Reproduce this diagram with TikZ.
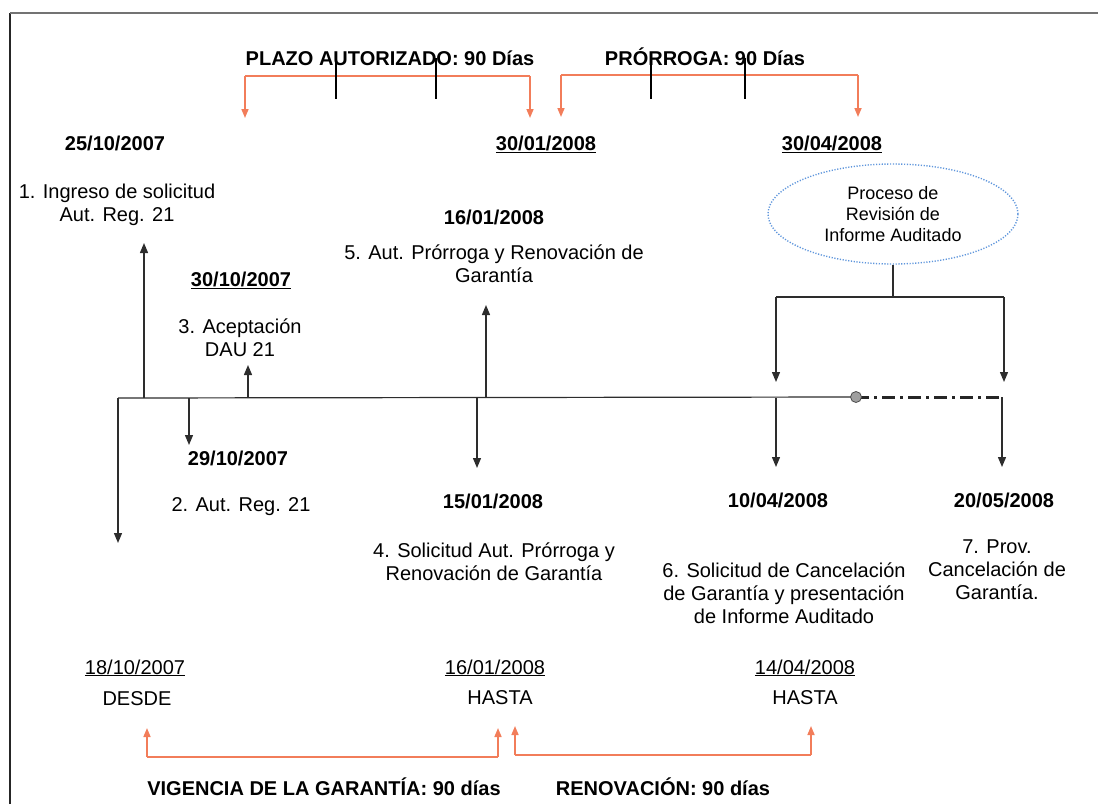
\documentclass[tikz,border=0pt]{standalone}
\usepackage{fontspec}
\setmainfont{Liberation Sans}
\usetikzlibrary{arrows.meta,shapes.geometric}
\definecolor{orangec}{RGB}{242,125,90}
\definecolor{dotblue}{RGB}{95,150,220}
\definecolor{linec}{RGB}{45,45,45}
\tikzset{
  txt/.style={font=\fontsize{20}{23}\selectfont, align=center, inner sep=0pt},
  dt/.style={font=\fontsize{20}{23}\selectfont\bfseries, align=center, inner sep=0pt},
  basepos/.style={anchor=base},
  arr/.style={draw=linec, line width=1.3pt, -{Triangle[length=10pt,width=8pt]}},
  org/.style={draw=orangec, line width=1.6pt},
  orgarr/.style={org, -{Triangle[length=9pt,width=7pt]}},
  tick/.style={draw=black, line width=2.2pt},
  tline/.style={draw=linec, line width=1.2pt},
}
\begin{document}
\begin{tikzpicture}[x=1pt,y=-1pt]
\useasboundingbox (0,0) rectangle (1098,804);
% frame
\draw[line width=2.8pt, black!85] (10,804) -- (10,13);
\draw[line width=2.8pt, black!55] (10,13) -- (1098,13);

% ---- top brackets
\node[dt, basepos] (title1) at (390,65) {PLAZO AUTORIZADO: 90 Días};
\node[dt, basepos] (title2) at (705,65) {PRÓRROGA: 90 Días};
\coordinate (p1l) at (245,76); \coordinate (p1r) at (530,76);
\coordinate (p1le) at (245,118); \coordinate (p1re) at (530,118);
\draw[org] (p1l) -- (p1r);
\draw[orgarr] (p1l) -- (p1le);
\draw[orgarr] (p1r) -- (p1re);
\coordinate (k1a) at (336,58); \coordinate (k1b) at (336,99);
\coordinate (k2a) at (436,58); \coordinate (k2b) at (436,99);
\draw[tick] (k1a) -- (k1b);
\draw[tick] (k2a) -- (k2b);
\coordinate (p2l) at (561,75); \coordinate (p2r) at (858,75);
\coordinate (p2le) at (561,117); \coordinate (p2re) at (858,117);
\draw[org] (p2l) -- (p2r);
\draw[orgarr] (p2l) -- (p2le);
\draw[orgarr] (p2r) -- (p2re);
\coordinate (k3a) at (651,58); \coordinate (k3b) at (651,99);
\coordinate (k4a) at (745,58); \coordinate (k4b) at (745,99);
\draw[tick] (k3a) -- (k3b);
\draw[tick] (k4a) -- (k4b);

% ---- top dates
\node[dt, basepos] (d1) at (115,150) {25/10/2007};
\node[dt, basepos] (d2) at (546,150) {\underline{30/01/2008}};
\node[dt, basepos] (d3) at (832,150) {\underline{30/04/2008}};

% ---- upper labels
\node[txt] (t1) at (117,205) {1. Ingreso de solicitud\\Aut. Reg. 21};
\node[dt, basepos] (d5) at (494,224) {16/01/2008};
\node[txt] (t5) at (494,264) {5. Aut. Prórroga y Renovación de\\Garantía};
\node[dt, basepos] (d4) at (241,286) {\underline{30/10/2007}};
\node[txt] (t3) at (240,338) {3. Aceptación\\DAU 21};

% ---- ellipse
\node[ellipse, draw=dotblue, line width=1.4pt, dash pattern=on 1.2pt off 1.6pt,
      minimum width=250pt, minimum height=100pt, inner sep=0pt,
      font=\fontsize{18}{21}\selectfont, align=center] (proc) at (893,214)
      {Proceso de\\Revisión de\\Informe Auditado};
\coordinate (hj) at (proc.south |- 0,297);
\coordinate (hl) at (776,297); \coordinate (hr) at (1004,297);
\coordinate (hle) at (776,382); \coordinate (hre) at (1004,382);
\draw[tline] (proc.south) -- (hj);
\draw[tline] (hl) -- (hr);
\draw[arr] (hl) -- (hle);
\draw[arr] (hr) -- (hre);

% ---- timeline
\coordinate (tl0) at (118,398);
\coordinate (tdot) at (856,397);
\coordinate (tend) at (1002,397);
\draw[tline] (tl0) -- (tdot);
\draw[draw=black!85, line width=3pt, dash pattern=on 13pt off 5pt on 3pt off 5pt] (tdot) -- (tend);
\fill[gray!75, draw=gray!60!black, line width=0.8pt] (tdot) circle (5.5pt);

% up arrows
\coordinate (u1) at (144,398); \coordinate (u1e) at (144,243);
\coordinate (u3) at (248,398); \coordinate (u3e) at (248,365);
\coordinate (u5) at (486,398); \coordinate (u5e) at (486,305);
\draw[arr] (u1) -- (u1e);
\draw[arr] (u3) -- (u3e);
\draw[arr] (u5) -- (u5e);
% down arrows
\coordinate (l0e) at (118,543);
\coordinate (w2) at (189,398); \coordinate (w2e) at (189,445);
\coordinate (w4) at (477,398); \coordinate (w4e) at (477,468);
\coordinate (w6) at (776,398); \coordinate (w6e) at (776,467);
\coordinate (w7e) at (1002,467);
\draw[arr] (tl0) -- (l0e);
\draw[arr] (w2) -- (w2e);
\draw[arr] (w4) -- (w4e);
\draw[arr] (w6) -- (w6e);
\draw[arr] (tend) -- (w7e);

% ---- lower labels
\node[dt, basepos] (d6) at (238,465) {29/10/2007};
\node[txt, basepos] (t2) at (241,511) {2. Aut. Reg. 21};
\node[dt, basepos] (d7) at (493,508) {15/01/2008};
\node[txt] (t4) at (494,562) {4. Solicitud Aut. Prórroga y\\Renovación de Garantía};
\node[dt, basepos] (d8) at (778,507) {10/04/2008};
\node[txt] (t6) at (784,593) {6. Solicitud de Cancelación\\de Garantía y presentación\\de Informe Auditado};
\node[dt, basepos] (d9) at (1004,507) {20/05/2008};
\node[txt] (t7) at (997,570) {7. Prov.\\Cancelación de\\Garantía.};

% ---- bottom
\node[txt, basepos] (d10) at (135,674) {\underline{18/10/2007}};
\node[txt, basepos] (desde) at (137,705) {DESDE};
\node[txt, basepos] (d11) at (495,674) {\underline{16/01/2008}};
\node[txt, basepos] (hasta1) at (500,704) {HASTA};
\node[txt, basepos] (d12) at (805,674) {\underline{14/04/2008}};
\node[txt, basepos] (hasta2) at (805,704) {HASTA};

\coordinate (b1l) at (147,757); \coordinate (b1r) at (498,757);
\coordinate (b1le) at (147,728); \coordinate (b1re) at (498,728);
\draw[org] (b1l) -- (b1r);
\draw[orgarr] (b1l) -- (b1le);
\draw[orgarr] (b1r) -- (b1re);
\coordinate (b2l) at (515,755); \coordinate (b2r) at (811,755);
\coordinate (b2le) at (515,726); \coordinate (b2re) at (811,726);
\draw[org] (b2l) -- (b2r);
\draw[orgarr] (b2l) -- (b2le);
\draw[orgarr] (b2r) -- (b2re);

\node[dt, basepos] (vig) at (324,795) {VIGENCIA DE LA GARANTÍA: 90 días};
\node[dt, basepos] (ren) at (663,795) {RENOVACIÓN: 90 días};
\end{tikzpicture}
\end{document}
